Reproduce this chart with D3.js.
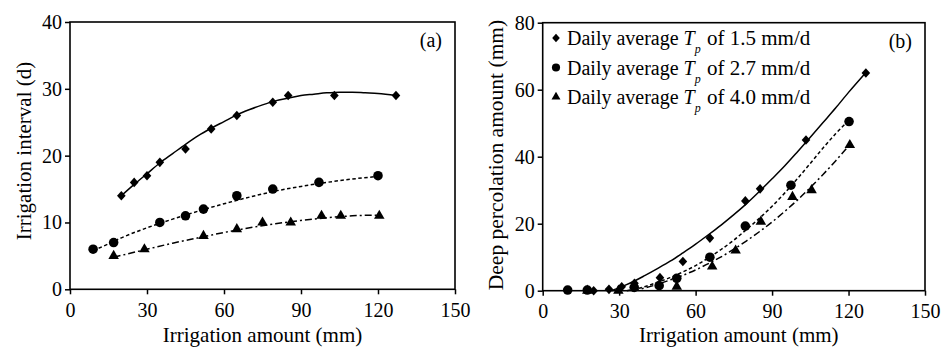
<!DOCTYPE html>
<html><head><meta charset="utf-8">
<script src="https://cdn.jsdelivr.net/npm/d3@7"></script>
<style>
body{margin:0;background:#fff;}
text{font-family:"Liberation Serif","Times New Roman",serif;fill:#000;}
</style></head>
<body><svg id="c" width="945" height="348"></svg>
<script>
// ---- Panel (a): irrigation interval (d) ----
const aDiamondX = [20, 25, 30, 35, 45, 55, 65, 79, 85, 103, 127];
const aDiamondY = [14, 16, 17, 19, 21, 24, 26, 28, 29, 29, 29];
const aCircleX = [9, 17, 35, 45, 52, 65, 79, 97, 120];
const aCircleY = [6, 7, 10, 11, 12, 14, 15, 16, 17];
const aTriX = [17, 29, 52, 65, 75, 86, 98, 105.5, 120.5];
const aTriY = [5, 6, 8, 9, 10, 10, 11, 11, 11];
// fitted curves
const aFitDX = [20, 25, 30, 35, 40, 45, 50, 55, 60, 65, 70, 75, 80, 85, 90, 95, 100, 105, 110, 115, 120, 127];
const aFitDY = [14.0, 15.7, 17.3, 18.9, 20.3, 21.7, 23.0, 24.1, 25.1, 26.1, 26.9, 27.6, 28.2, 28.6, 29.0, 29.2, 29.4, 29.5, 29.5, 29.4, 29.3, 29.0];
const aFitCX = [9, 15, 20, 30, 40, 50, 60, 70, 80, 90, 100, 110, 120];
const aFitCY = [5.8, 6.8, 7.7, 9.2, 10.5, 11.7, 12.8, 13.8, 14.7, 15.4, 16.0, 16.5, 16.9];
const aFitTX = [17, 30, 40, 50, 60, 70, 80, 90, 100, 110, 120];
const aFitTY = [4.8, 6.0, 6.9, 7.7, 8.5, 9.2, 9.8, 10.3, 10.7, 11.0, 11.1];

// ---- Panel (b): deep percolation amount (mm) ----
const bDiamondX = [20, 26, 31, 36, 46, 55, 65.6, 79.5, 85.3, 103.3, 126.8];
const bDiamondY = [0, 0.4, 1.2, 2.2, 3.9, 8.7, 15.7, 26.8, 30.4, 45, 65];
const bCircleX = [9.8, 17.5, 35.9, 45.7, 52.6, 65.6, 79.5, 97.4, 120.2];
const bCircleY = [0.2, 0.2, 1.0, 1.5, 3.7, 10, 19.3, 31.5, 50.5];
const bTriX = [17.5, 29.7, 52.6, 66.5, 75.7, 85.6, 98, 105.5, 120.5];
const bTriY = [0, 0, 1.2, 7.2, 12, 20.6, 28, 30, 43.5];
const bFitDX = [27, 28, 32, 36, 40, 45, 50, 55, 60, 65, 70, 75, 80, 85, 90, 95, 100, 105, 110, 115, 120, 127];
const bFitDY = [0, 0.3, 1.5, 2.9, 4.5, 6.6, 8.8, 11.3, 13.9, 16.7, 19.6, 22.7, 26.0, 29.6, 33.4, 37.3, 41.5, 45.8, 50.2, 54.6, 59.2, 65.3];
const bFitCX = [33, 40, 45, 50, 55, 60, 65, 70, 75, 80, 85, 90, 95, 100, 105, 110, 115, 120];
const bFitCY = [0, 1.2, 2.5, 3.9, 5.6, 7.5, 9.8, 12.3, 15.1, 18.3, 21.6, 25.2, 29.2, 33.5, 38.0, 42.6, 46.9, 50.8];
const bFitTX = [35, 40, 45, 50, 55, 60, 65, 70, 75, 80, 85, 90, 95, 100, 105, 110, 115, 120];
const bFitTY = [0, 0.8, 1.9, 3.2, 4.6, 6.2, 8.1, 10.1, 12.4, 14.9, 17.6, 20.5, 23.7, 27.1, 30.8, 34.7, 38.8, 43.2];

const xTicks = [0, 30, 60, 90, 120, 150];
const aYTicks = [0, 10, 20, 30, 40];
const bYTicks = [0, 20, 40, 60, 80];
const legendLabels = ["1.5 mm/d", "2.7 mm/d", "4.0 mm/d"];

const svg = d3.select("#c");
const FS = 20;

function zip(xs, ys){ return xs.map((x,i)=>[x, ys[i]]); }

const syms = [
  d3.symbol().type(d3.symbolSquare).size(46),
  d3.symbol().type(d3.symbolCircle).size(72),
  d3.symbol().type(d3.symbolTriangle).size(48)
];
const symXf = [" rotate(45)", "", ""];

function panel(o){
  const x = d3.scaleLinear().domain([0,150]).range([o.l, o.r]);
  const y = d3.scaleLinear().domain([0,o.ymax]).range([o.b, o.t]);
  const g = svg.append("g");
  const ax = g.append("g").attr("transform",`translate(0,${o.b})`)
    .call(d3.axisBottom(x).tickValues(xTicks).tickSize(5).tickSizeOuter(0).tickPadding(4));
  const ay = g.append("g").attr("transform",`translate(${o.l},0)`)
    .call(d3.axisLeft(y).tickValues(o.yTicks).tickSize(5).tickSizeOuter(0).tickPadding(3));
  [ax, ay].forEach(a=>{
    a.select(".domain").remove();
    a.selectAll("line").attr("stroke","#000").attr("stroke-width",1.5);
    a.selectAll("text").style("font-family",'"Liberation Serif",serif').style("font-size",FS+"px").attr("fill","#000");
  });
  ax.selectAll("text").attr("dy","0.93em");
  g.append("rect").attr("x",o.l).attr("y",o.t).attr("width",o.r-o.l).attr("height",o.b-o.t)
    .attr("fill","none").attr("stroke","#000").attr("stroke-width",1.6);
  const line = d3.line().x(d=>x(d[0])).y(d=>y(d[1])).curve(d3.curveMonotoneX);
  const styles = ["none","3.5,2.5","7,3,2,3"];
  o.fits.forEach((f,i)=>{
    g.append("path").attr("d", line(zip(f[0],f[1]))).attr("fill","none")
      .attr("stroke","#000").attr("stroke-width",1.5).attr("stroke-dasharray",styles[i]);
  });
  o.pts.forEach((p,i)=>{
    g.selectAll(null).data(zip(p[0],p[1])).join("path")
      .attr("d", syms[i]).attr("fill","#000")
      .attr("transform", d=>`translate(${x(d[0])},${y(d[1])})${i===0?" scale(0.9,1)":""}${symXf[i]}`);
  });
  g.append("text").attr("x",(o.l+o.r)/2 + o.xtOff).attr("y",342).attr("text-anchor","middle")
    .style("font-size","21px").text("Irrigation amount (mm)");
  g.append("text").attr("transform",`translate(${o.tx},${o.ty}) rotate(-90)`).attr("text-anchor","middle")
    .style("font-size",o.ytFs+"px").text(o.ytitle);
  g.append("text").attr("x",o.r-13).attr("y",o.t+25).attr("text-anchor","end")
    .style("font-size",FS+"px").text(o.tag);
  return {x,y,g};
}

panel({l:70, r:455, t:22, b:289.3, ymax:40, yTicks:aYTicks, xtOff:0,
  fits:[[aFitDX,aFitDY],[aFitCX,aFitCY],[aFitTX,aFitTY]],
  pts:[[aDiamondX,aDiamondY],[aCircleX,aCircleY],[aTriX,aTriY]],
  ytitle:"Irrigation interval (d)", ytFs:21, tx:31, ty:151, tag:"(a)"});

const pb = panel({l:542.7, r:925, t:22.7, b:290.7, ymax:80, yTicks:bYTicks, xtOff:5,
  fits:[[bFitDX,bFitDY],[bFitCX,bFitCY],[bFitTX,bFitTY]],
  pts:[[bDiamondX,bDiamondY],[bCircleX,bCircleY],[bTriX,bTriY]],
  ytitle:"Deep percolation amount (mm)", ytFs:21.5, tx:503, ty:155, tag:"(b)"});

// legend
const leg = pb.g.append("g");
legendLabels.forEach((lab,i)=>{
  const cy = 38 + i*29.5;
  leg.append("path").attr("d", syms[i]).attr("fill","#000")
    .attr("transform",`translate(556,${cy})` + (i===0?" scale(0.8,0.9)":" scale(0.85)") + symXf[i]);
  const t = leg.append("text").attr("x",567).attr("y",cy+7).style("font-size",FS+"px");
  t.append("tspan").text("Daily average ");
  t.append("tspan").style("font-style","italic").text("T");
  t.append("tspan").style("font-style","italic").style("font-size","12px").attr("dy",8).attr("dx",0).text("p");
  t.append("tspan").attr("dy",-8).attr("dx",1).style("font-size","21px").text(" of " + lab);
});
</script></body></html>
